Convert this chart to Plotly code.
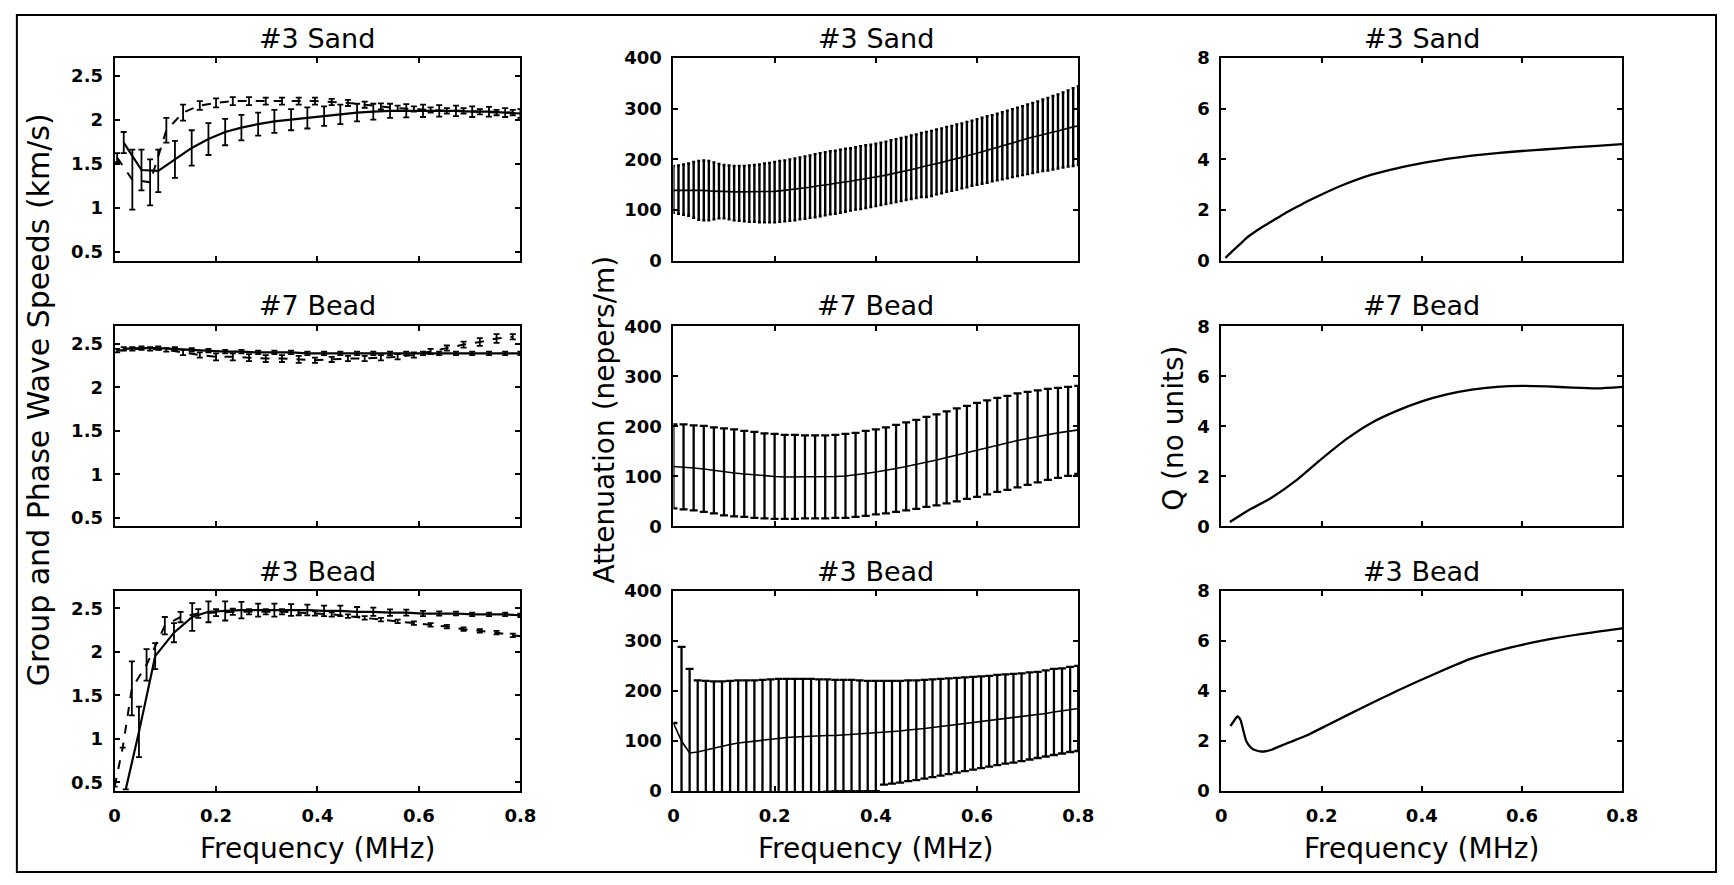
import plotly.graph_objects as go

# ------------------------------------------------------------------ data
# ---- wave speeds (km/s): solid curve and dashed curve, each with error bars
sand3_sp_f_solid = [0.018, 0.053, 0.086, 0.119, 0.152, 0.185, 0.218, 0.250, 0.283, 0.315, 0.348, 0.380, 0.413,
                    0.445, 0.478, 0.510, 0.543, 0.575, 0.608, 0.640, 0.673, 0.705, 0.738, 0.770, 0.800]
sand3_sp_solid = [1.74, 1.43, 1.42, 1.55, 1.68, 1.78, 1.86, 1.91, 1.95, 1.98, 2.00, 2.02, 2.04,
                  2.06, 2.08, 2.09, 2.10, 2.10, 2.10, 2.10, 2.10, 2.09, 2.09, 2.08, 2.07]
sand3_sp_solid_err = [0.12, 0.23, 0.24, 0.21, 0.20, 0.18, 0.15, 0.145, 0.13, 0.13, 0.12, 0.12, 0.11,
                      0.11, 0.10, 0.09, 0.08, 0.075, 0.07, 0.065, 0.06, 0.06, 0.055, 0.05, 0.05]
sand3_sp_f_dash = [0.005, 0.035, 0.070, 0.102, 0.135, 0.168, 0.200, 0.233, 0.265, 0.298, 0.330, 0.363, 0.395,
                   0.428, 0.460, 0.493, 0.525, 0.558, 0.590, 0.623, 0.655, 0.688, 0.720, 0.753, 0.785]
sand3_sp_dash = [1.57, 1.32, 1.29, 1.88, 2.08, 2.16, 2.19, 2.21, 2.21, 2.21, 2.21, 2.21, 2.21,
                 2.20, 2.19, 2.17, 2.15, 2.13, 2.12, 2.11, 2.10, 2.10, 2.09, 2.08, 2.08]
sand3_sp_dash_err = [0.05, 0.34, 0.26, 0.14, 0.09, 0.05, 0.05, 0.045, 0.045, 0.04, 0.04, 0.04, 0.04,
                     0.035, 0.035, 0.035, 0.035, 0.03, 0.03, 0.03, 0.03, 0.03, 0.03, 0.03, 0.03]

bead7_sp_f_solid = [0.018, 0.053, 0.086, 0.119, 0.152, 0.185, 0.218, 0.250, 0.283, 0.315, 0.348, 0.380, 0.413,
                    0.445, 0.478, 0.510, 0.543, 0.575, 0.608, 0.640, 0.673, 0.705, 0.738, 0.770, 0.800]
bead7_sp_solid = [2.44, 2.45, 2.45, 2.44, 2.43, 2.42, 2.41, 2.41, 2.40, 2.40, 2.40, 2.39, 2.39,
                  2.39, 2.39, 2.39, 2.39, 2.39, 2.39, 2.39, 2.39, 2.39, 2.39, 2.39, 2.39]
bead7_sp_solid_err = [0.02, 0.02, 0.02, 0.02, 0.02, 0.02, 0.02, 0.02, 0.02, 0.02, 0.02, 0.02, 0.02,
                      0.02, 0.02, 0.02, 0.02, 0.02, 0.02, 0.02, 0.02, 0.02, 0.02, 0.02, 0.02]
bead7_sp_f_dash = [0.005, 0.035, 0.070, 0.102, 0.135, 0.168, 0.200, 0.233, 0.265, 0.298, 0.330, 0.363, 0.395,
                   0.428, 0.460, 0.493, 0.525, 0.558, 0.590, 0.623, 0.655, 0.688, 0.720, 0.753, 0.785]
bead7_sp_dash = [2.42, 2.44, 2.44, 2.43, 2.40, 2.37, 2.35, 2.35, 2.34, 2.33, 2.33, 2.32, 2.31,
                 2.32, 2.33, 2.33, 2.34, 2.35, 2.37, 2.41, 2.45, 2.49, 2.52, 2.56, 2.58]
bead7_sp_dash_err = [0.02, 0.02, 0.02, 0.02, 0.03, 0.03, 0.04, 0.04, 0.04, 0.04, 0.04, 0.04, 0.03,
                     0.03, 0.03, 0.03, 0.03, 0.03, 0.03, 0.03, 0.03, 0.035, 0.045, 0.05, 0.03]

bead3_sp_f_solid = [0.022, 0.048, 0.080, 0.117, 0.153, 0.185, 0.218, 0.250, 0.283, 0.315, 0.348, 0.380, 0.413,
                    0.445, 0.478, 0.510, 0.543, 0.575, 0.608, 0.640, 0.673, 0.705, 0.738, 0.770, 0.800]
bead3_sp_solid = [0.42, 1.08, 1.95, 2.22, 2.40, 2.46, 2.47, 2.48, 2.48, 2.48, 2.48, 2.48, 2.47,
                  2.47, 2.46, 2.46, 2.45, 2.45, 2.44, 2.44, 2.44, 2.43, 2.43, 2.43, 2.42]
bead3_sp_solid_err = [0.0, 0.29, 0.15, 0.11, 0.16, 0.12, 0.11, 0.095, 0.075, 0.075, 0.068, 0.062, 0.06,
                      0.06, 0.055, 0.047, 0.038, 0.034, 0.03, 0.025, 0.022, 0.02, 0.02, 0.02, 0.02]
bead3_sp_f_dash = [0.000, 0.016, 0.034, 0.063, 0.099, 0.130, 0.165, 0.200, 0.233, 0.265, 0.298, 0.330, 0.363,
                   0.395, 0.428, 0.460, 0.493, 0.525, 0.558, 0.590, 0.623, 0.655, 0.688, 0.720, 0.753, 0.785, 0.800]
bead3_sp_dash = [0.45, 0.90, 1.58, 1.85, 2.30, 2.40, 2.44, 2.45, 2.46, 2.46, 2.46, 2.46, 2.45,
                 2.44, 2.43, 2.41, 2.39, 2.37, 2.35, 2.33, 2.31, 2.29, 2.26, 2.24, 2.22, 2.19, 2.18]
bead3_sp_dash_err = [0.0, 0.0, 0.31, 0.18, 0.10, 0.06, 0.05, 0.04, 0.035, 0.03, 0.03, 0.03, 0.03,
                     0.025, 0.025, 0.02, 0.02, 0.02, 0.02, 0.02, 0.02, 0.02, 0.02, 0.02, 0.02, 0.02, 0.0]

# ---- attenuation (nepers/m)
sand3_att_f = [0.00, 0.01, 0.02, 0.03, 0.04, 0.05, 0.06, 0.07, 0.08, 0.09,
               0.10, 0.11, 0.12, 0.13, 0.14, 0.15, 0.16, 0.17, 0.18, 0.19,
               0.20, 0.21, 0.22, 0.23, 0.24, 0.25, 0.26, 0.27, 0.28, 0.29,
               0.30, 0.31, 0.32, 0.33, 0.34, 0.35, 0.36, 0.37, 0.38, 0.39,
               0.40, 0.41, 0.42, 0.43, 0.44, 0.45, 0.46, 0.47, 0.48, 0.49,
               0.50, 0.51, 0.52, 0.53, 0.54, 0.55, 0.56, 0.57, 0.58, 0.59,
               0.60, 0.61, 0.62, 0.63, 0.64, 0.65, 0.66, 0.67, 0.68, 0.69,
               0.70, 0.71, 0.72, 0.73, 0.74, 0.75, 0.76, 0.77, 0.78, 0.79, 0.80]
sand3_att_mean = [139, 139, 140, 140, 140, 140, 139, 138, 137, 137,
                  137, 136, 136, 136, 136, 136, 136, 136, 137, 137,
                  137, 138, 139, 140, 141, 142, 144, 145, 147, 148,
                  150, 151, 153, 154, 156, 157, 159, 160, 162, 164,
                  165, 167, 169, 171, 173, 175, 177, 180, 182, 185,
                  187, 189, 192, 194, 197, 199, 202, 204, 207, 209,
                  212, 215, 218, 220, 223, 226, 229, 232, 235, 238,
                  241, 244, 246, 249, 251, 254, 256, 259, 261, 264, 266]
sand3_att_upper = [187, 188, 190, 192, 195, 197, 198, 197, 194, 191,
                   189, 188, 187, 187, 187, 188, 189, 190, 192, 193,
                   195, 197, 198, 200, 202, 204, 206, 208, 210, 212,
                   214, 216, 217, 219, 221, 222, 224, 226, 228, 229,
                   231, 233, 235, 238, 240, 242, 244, 247, 249, 252,
                   254, 256, 259, 261, 264, 266, 269, 271, 274, 276,
                   279, 282, 285, 287, 290, 293, 296, 299, 302, 305,
                   308, 311, 314, 318, 321, 325, 328, 332, 336, 340, 344]
sand3_att_lower = [95, 93, 91, 89, 85, 81, 80, 80, 82, 84,
                   84, 82, 80, 79, 78, 77, 77, 76, 76, 76,
                   76, 77, 78, 79, 80, 82, 83, 85, 86, 88,
                   90, 92, 93, 95, 97, 99, 101, 102, 104, 106,
                   108, 110, 112, 114, 116, 118, 120, 122, 124, 126,
                   126, 128, 131, 133, 136, 138, 140, 143, 145, 148,
                   150, 152, 154, 157, 159, 161, 163, 165, 167, 169,
                   171, 173, 175, 177, 178, 180, 182, 184, 186, 187, 189]

bead7_att_f = [0.00, 0.02, 0.04, 0.06, 0.08, 0.10, 0.12, 0.14, 0.16, 0.18,
               0.20, 0.22, 0.24, 0.26, 0.28, 0.30, 0.32, 0.34, 0.36, 0.38,
               0.40, 0.42, 0.44, 0.46, 0.48, 0.50, 0.52, 0.54, 0.56, 0.58,
               0.60, 0.62, 0.64, 0.66, 0.68, 0.70, 0.72, 0.74, 0.76, 0.78, 0.80]
bead7_att_mean = [120, 119, 117, 115, 112, 109, 107, 105, 103, 101,
                  100, 99, 99, 99, 99, 99, 100, 101, 103, 106,
                  109, 112, 116, 120, 124, 129, 133, 138, 143, 148,
                  153, 158, 163, 167, 172, 176, 180, 184, 187, 190, 193]
bead7_att_err = [84, 85, 85, 86, 86, 87, 87, 86, 86, 85,
                 85, 84, 84, 83, 83, 83, 83, 84, 84, 85,
                 85, 86, 87, 88, 89, 90, 91, 92, 93, 93,
                 94, 94, 94, 94, 94, 93, 92, 91, 90, 89, 88]

bead3_att_f = [0.000, 0.016, 0.032, 0.048, 0.064, 0.080, 0.096, 0.112, 0.128, 0.144,
               0.160, 0.176, 0.192, 0.208, 0.224, 0.240, 0.256, 0.272, 0.288, 0.304,
               0.320, 0.336, 0.352, 0.368, 0.384, 0.400, 0.416, 0.432, 0.448, 0.464,
               0.480, 0.496, 0.512, 0.528, 0.544, 0.560, 0.576, 0.592, 0.608, 0.624,
               0.640, 0.656, 0.672, 0.688, 0.704, 0.720, 0.736, 0.752, 0.768, 0.784, 0.800]
bead3_att_mean = [136, 100, 76, 78, 82, 86, 90, 93, 96, 98,
                  100, 102, 104, 106, 107, 108, 109, 110, 110, 111,
                  111, 112, 113, 114, 115, 117, 118, 119, 120, 122,
                  123, 125, 127, 129, 131, 133, 135, 137, 139, 141,
                  143, 145, 146, 148, 150, 152, 155, 158, 160, 163, 165]
bead3_att_err_plus = [0, 188, 168, 143, 138, 133, 129, 127, 125, 123,
                      121, 120, 119, 118, 117, 116, 115, 114, 113, 112,
                      111, 110, 109, 107, 105, 103, 102, 101, 100, 99,
                      98, 97, 96, 95, 94, 93, 92, 91, 90, 89,
                      89, 88, 88, 87, 87, 86, 86, 86, 85, 85, 85]
bead3_att_err_minus = [0, 188, 168, 143, 138, 133, 129, 127, 125, 123,
                       121, 120, 119, 118, 117, 116, 115, 114, 113, 112,
                       111, 112, 113, 114, 115, 117, 105, 104, 103, 102,
                       101, 100, 99, 98, 97, 96, 95, 94, 93, 92,
                       91, 90, 89, 88, 87, 86, 86, 86, 85, 85, 85]

# ---- Q (no units)
sand3_q_f = [0.008, 0.020, 0.035, 0.050, 0.065, 0.080, 0.100, 0.125, 0.150, 0.175, 0.200, 0.250,
             0.300, 0.350, 0.400, 0.450, 0.500, 0.550, 0.600, 0.650, 0.700, 0.750, 0.800]
sand3_q = [0.12, 0.35, 0.62, 0.90, 1.12, 1.32, 1.55, 1.85, 2.12, 2.38, 2.62, 3.05,
           3.40, 3.65, 3.85, 4.02, 4.15, 4.25, 4.33, 4.40, 4.47, 4.53, 4.60]
bead7_q_f = [0.017, 0.050, 0.100, 0.150, 0.200, 0.250, 0.300, 0.350, 0.400, 0.450, 0.500,
             0.550, 0.600, 0.650, 0.700, 0.750, 0.800]
bead7_q = [0.18, 0.60, 1.15, 1.85, 2.70, 3.50, 4.15, 4.62, 5.00, 5.28, 5.47,
           5.58, 5.62, 5.60, 5.55, 5.52, 5.58]
bead3_q_f = [0.018, 0.025, 0.032, 0.038, 0.044, 0.050, 0.060, 0.070, 0.080, 0.090, 0.100, 0.130,
             0.170, 0.220, 0.280, 0.350, 0.430, 0.500, 0.580, 0.650, 0.720, 0.800]
bead3_q = [2.60, 2.80, 2.98, 2.85, 2.40, 1.98, 1.72, 1.62, 1.58, 1.60, 1.65, 1.90,
           2.22, 2.72, 3.32, 4.00, 4.72, 5.30, 5.75, 6.05, 6.28, 6.50]

# ---- labels
panel_titles = [["#3 Sand", "#3 Sand", "#3 Sand"],
                ["#7 Bead", "#7 Bead", "#7 Bead"],
                ["#3 Bead", "#3 Bead", "#3 Bead"]]
col_ytitles = ["Group and Phase Wave Speeds (km/s)", "Attenuation (nepers/m)", "Q (no units)"]
xtitle = "Frequency (MHz)"
x_ticks = [0, 0.2, 0.4, 0.6, 0.8]
x_ticktext = ["0", "0.2", "0.4", "0.6", "0.8"]
y_ticks = [[0.5, 1, 1.5, 2, 2.5], [0, 100, 200, 300, 400], [0, 2, 4, 6, 8]]
y_ticktext = [["0.5", "1", "1.5", "2", "2.5"], ["0", "100", "200", "300", "400"], ["0", "2", "4", "6", "8"]]
y_ranges = [[0.4, 2.7], [0, 400], [0, 8]]

# ------------------------------------------------------------------ layout geometry (pixels)
W, H = 1734, 885
col_px = [(110, 521), (676, 1086), (1231, 1637)]
row_px = [(48, 256), (323, 528), (594, 799)]
title_y_px = [28, 302, 574]
FONT = "DejaVu Sans"
BLACK = "#000000"


def px_x(p):
    return p / W


def px_y(p):
    return 1 - p / H


fig = go.Figure()


def axis_id(r, c):
    return r * 3 + c + 1


def add_line(r, c, x, y, dash="solid", err=None, errminus=None, spline=False, lw=2.0, ewidth=3, ethick=1.8):
    n = axis_id(r, c)
    tr = go.Scatter(
        x=x, y=y, mode="lines",
        line=dict(color=BLACK, width=lw, dash=dash, shape="spline" if spline else "linear", smoothing=0.6),
        xaxis="x" if n == 1 else f"x{n}", yaxis="y" if n == 1 else f"y{n}",
        showlegend=False, hoverinfo="skip",
    )
    if err is not None:
        ed = dict(type="data", array=err, visible=True, color=BLACK, thickness=ethick, width=ewidth)
        if errminus is not None:
            ed["symmetric"] = False
            ed["arrayminus"] = errminus
        tr.error_y = ed
    fig.add_trace(tr)


# speeds column
add_line(0, 0, sand3_sp_f_solid, sand3_sp_solid, err=sand3_sp_solid_err, lw=2.2)
add_line(0, 0, sand3_sp_f_dash, sand3_sp_dash, dash="dash", err=sand3_sp_dash_err)
add_line(1, 0, bead7_sp_f_solid, bead7_sp_solid, err=bead7_sp_solid_err, lw=2.2)
add_line(1, 0, bead7_sp_f_dash, bead7_sp_dash, dash="dash", err=bead7_sp_dash_err)
add_line(2, 0, bead3_sp_f_solid, bead3_sp_solid, err=bead3_sp_solid_err, lw=2.2)
add_line(2, 0, bead3_sp_f_dash, bead3_sp_dash, dash="dash", err=bead3_sp_dash_err)

# attenuation column
s3_up = [u - m for u, m in zip(sand3_att_upper, sand3_att_mean)]
s3_dn = [m - l for m, l in zip(sand3_att_mean, sand3_att_lower)]
add_line(0, 1, sand3_att_f, sand3_att_mean, err=s3_up, errminus=s3_dn, lw=1.6, ewidth=1.5, ethick=2.4)
add_line(1, 1, bead7_att_f, bead7_att_mean, err=bead7_att_err, lw=1.6, ewidth=4, ethick=2.3)
add_line(2, 1, bead3_att_f, bead3_att_mean, err=bead3_att_err_plus, errminus=bead3_att_err_minus,
         lw=1.6, ewidth=4, ethick=2.3)

# Q column
add_line(0, 2, sand3_q_f, sand3_q, spline=True, lw=2.3)
add_line(1, 2, bead7_q_f, bead7_q, spline=True, lw=2.3)
add_line(2, 2, bead3_q_f, bead3_q, spline=True, lw=2.3)

layout = dict(
    width=W, height=H, margin=dict(l=0, r=0, t=0, b=0),
    paper_bgcolor="white", plot_bgcolor="white",
    font=dict(family=FONT, color=BLACK),
    showlegend=False,
)
for r in range(3):
    for c in range(3):
        n = axis_id(r, c)
        xk = "xaxis" if n == 1 else f"xaxis{n}"
        yk = "yaxis" if n == 1 else f"yaxis{n}"
        common = dict(showline=True, linecolor=BLACK, linewidth=2, mirror="ticks",
                      ticks="inside", ticklen=5, tickwidth=1.5, tickcolor=BLACK,
                      showgrid=False, zeroline=False,
                      tickfont=dict(family=FONT, size=18, color=BLACK, weight="bold"))
        layout[xk] = dict(common, domain=[px_x(col_px[c][0]), px_x(col_px[c][1])],
                          range=[0, 0.8], tickmode="array", tickvals=x_ticks, ticktext=x_ticktext,
                          showticklabels=(r == 2), ticklabelstandoff=7,
                          anchor="y" if n == 1 else f"y{n}")
        layout[yk] = dict(common, domain=[px_y(row_px[r][1]), px_y(row_px[r][0])],
                          range=y_ranges[c], tickmode="array", tickvals=y_ticks[c], ticktext=y_ticktext[c],
                          ticklabelstandoff=6,
                          anchor="x" if n == 1 else f"x{n}")

annotations = []
for r in range(3):
    for c in range(3):
        annotations.append(dict(
            text=panel_titles[r][c], xref="paper", yref="paper",
            x=px_x((col_px[c][0] + col_px[c][1]) / 2), y=px_y(title_y_px[r]),
            xanchor="center", yanchor="middle", showarrow=False,
            font=dict(family=FONT, size=27, color=BLACK)))
for c in range(3):
    annotations.append(dict(
        text=xtitle, xref="paper", yref="paper",
        x=px_x((col_px[c][0] + col_px[c][1]) / 2), y=px_y(858),
        xanchor="center", yanchor="middle", showarrow=False,
        font=dict(family=FONT, size=28, color=BLACK)))
ytitle_pos = [(33, 398), (606, 418), (1183, 427)]
ytitle_size = [30, 28, 28]
for c in range(3):
    annotations.append(dict(
        text=col_ytitles[c], xref="paper", yref="paper",
        x=px_x(ytitle_pos[c][0]), y=px_y(ytitle_pos[c][1]), textangle=-90,
        xanchor="center", yanchor="middle", showarrow=False,
        font=dict(family=FONT, size=ytitle_size[c], color=BLACK)))
layout["annotations"] = annotations
layout["shapes"] = [dict(type="rect", xref="paper", yref="paper",
                         x0=px_x(11), x1=px_x(1732), y0=px_y(882), y1=px_y(4),
                         line=dict(color=BLACK, width=2), fillcolor="rgba(0,0,0,0)", layer="below")]

fig.update_layout(**layout)
fig.write_html("out.html")
